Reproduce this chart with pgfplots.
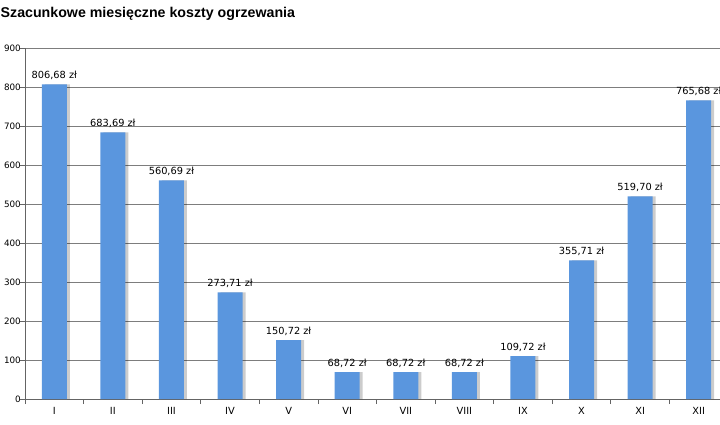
\documentclass[border=0pt]{standalone}
\usepackage{fontspec}
\setmainfont{DejaVu Sans}
\newfontfamily\titlefont{Liberation Sans}
\usepackage{pgfplots}
\usepackage{pgfplotstable}
\pgfplotsset{compat=1.18}
\definecolor{barblue}{RGB}{90,150,222}
\definecolor{gridgray}{RGB}{125,125,125}
\definecolor{axisgray}{RGB}{100,100,100}
\pgfplotstableread{
x y
0 806.68
1 683.69
2 560.69
3 273.71
4 150.72
5 68.72
6 68.72
7 68.72
8 109.72
9 355.71
10 519.70
11 765.68
}\data
\begin{document}
\begin{tikzpicture}[x=1pt,y=1pt]
\useasboundingbox (0,0) rectangle (720,424);
\clip (0,0) rectangle (720,424);
\node[anchor=west, font=\titlefont\bfseries\fontsize{14.2}{16}\selectfont, inner sep=0pt] at (0.5,410) {Szacunkowe miesięczne koszty ogrzewania};
\begin{axis}[
  at={(25pt,25pt)}, anchor=south west,
  scale only axis, width=703pt, height=351pt,
  xmin=-0.5, xmax=11.5, ymin=0, ymax=900,
  ytick={0,100,...,900},
  xtick={0,...,11},
  xticklabels={I,II,III,IV,V,VI,VII,VIII,IX,X,XI,XII},
  minor xtick={-0.5,0.5,...,11.5},
  major x tick style={draw=none},
  tick align=outside, major tick length=5pt, minor tick length=5pt,
  xtick pos=bottom, ytick pos=left,
  ymajorgrids, grid style={gridgray, line width=0.6pt},
  axis x line*=bottom, axis y line*=left,
  axis line style={-, axisgray, line width=0.9pt},
  tick style={axisgray, line width=0.8pt},
  tick label style={font=\fontsize{9.8}{11}\selectfont},
  yticklabel style={font=\fontsize{8.8}{10}\selectfont, anchor=east, inner sep=0pt, xshift=0pt},
  yticklabel shift=-1pt,
  /pgf/number format/assume math mode=true,
  clip=false,
]
\addplot[ybar, bar width=25pt, bar shift=3pt, fill=black, opacity=0.2, draw=none] table[x=x,y=y]{\data};
\addplot[ybar, bar width=25pt, bar shift=0pt, fill=barblue, draw=none,
  point meta=y,
  nodes near coords={\pgfmathprintnumber[fixed,fixed zerofill,precision=2,use comma]{\pgfplotspointmeta}~zł},
  nodes near coords style={font=\fontsize{9.8}{11}\selectfont, anchor=south, yshift=1pt, text=black}
] table[x=x,y=y]{\data};
\end{axis}
\end{tikzpicture}
\end{document}
